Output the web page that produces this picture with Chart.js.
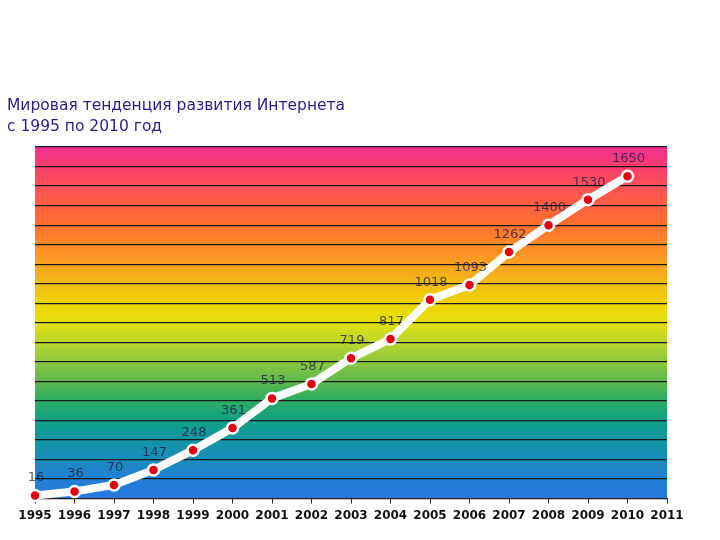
<!DOCTYPE html>
<html>
<head>
<meta charset="utf-8">
<script src="https://cdn.jsdelivr.net/npm/chart.js@4/dist/chart.umd.min.js"></script>
<style>
  body { margin: 0; background: #fff; }
  #wrap { position: relative; width: 720px; height: 540px; }
  #title {
    position: absolute; left: 7px; top: 95px;
    font: 15.5px "DejaVu Sans", Verdana, sans-serif;
    line-height: 21px; color: #2b1c84;
  }
</style>
</head>
<body>
<div id="wrap">
  <canvas id="chart" width="720" height="540"></canvas>
  <div id="title">Мировая тенденция развития Интернета<br>с 1995 по 2010 год</div>
</div>
<script>
// data
const years = [1995, 1996, 1997, 1998, 1999, 2000, 2001, 2002, 2003, 2004, 2005, 2006, 2007, 2008, 2009, 2010];
const users = [16, 36, 70, 147, 248, 361, 513, 587, 719, 817, 1018, 1093, 1262, 1400, 1530, 1650];

// rainbow background, top to bottom
const bandColors = ["#f0308f", "#f83c6c", "#ff5058", "#ff6040", "#ff7030", "#ff8a28", "#faa020",
  "#f2bc18", "#f0d400", "#e2e010", "#bcd62c", "#8cc840", "#5cb84c", "#2cac66", "#10a084",
  "#1296a4", "#1a8cbc", "#2280d4", "#2a74e0"];

const rainbow = {
  id: "rainbow",
  beforeDraw(chart) {
    const { ctx, chartArea: a } = chart;
    const g = ctx.createLinearGradient(0, a.top, 0, a.bottom);
    bandColors.forEach((c, i) => g.addColorStop(i / (bandColors.length - 1), c));
    ctx.save();
    ctx.fillStyle = g;
    ctx.fillRect(a.left, a.top, a.right - a.left, a.bottom - a.top);
    ctx.restore();
  }
};

const valueLabels = {
  id: "valueLabels",
  afterDatasetsDraw(chart) {
    const ctx = chart.ctx;
    const meta = chart.getDatasetMeta(0);
    ctx.save();
    ctx.font = "13px 'DejaVu Sans', Verdana, sans-serif";
    ctx.fillStyle = "rgba(25,25,70,0.75)";
    ctx.textAlign = "center";
    ctx.textBaseline = "bottom";
    meta.data.forEach((pt, i) => {
      ctx.fillText(users[i], pt.x + 1, pt.y - 11);
    });
    ctx.restore();
  }
};

new Chart(document.getElementById("chart"), {
  type: "line",
  data: {
    datasets: [{
      data: years.map((y, i) => ({ x: y, y: users[i] })),
      borderColor: "#ffffff",
      borderWidth: 8,
      tension: 0,
      pointRadius: 5.5,
      pointBackgroundColor: "#e00010",
      pointBorderColor: "#ffffff",
      pointBorderWidth: 2.5,
      clip: false
    }]
  },
  options: {
    responsive: false,
    animation: false,
    layout: { padding: { left: 35, right: 53, top: 147, bottom: 12 } },
    plugins: { legend: { display: false }, tooltip: { enabled: false } },
    scales: {
      x: {
        type: "linear",
        min: 1995,
        max: 2011,
        ticks: {
          stepSize: 1,
          callback: v => String(v),
          color: "#111",
          font: { family: "'DejaVu Sans', Verdana, sans-serif", size: 12, weight: "bold" },
          maxRotation: 0,
          padding: 5
        },
        grid: { drawOnChartArea: false, drawTicks: true, tickLength: 5, color: "#333" },
        border: { color: "#222", width: 1 }
      },
      y: {
        min: 0,
        max: 1800,
        ticks: { display: false, stepSize: 100 },
        grid: { color: "#1a1a1a", lineWidth: 1.2, drawTicks: false },
        border: { display: false }
      }
    }
  },
  plugins: [rainbow, valueLabels]
});
</script>
</body>
</html>
